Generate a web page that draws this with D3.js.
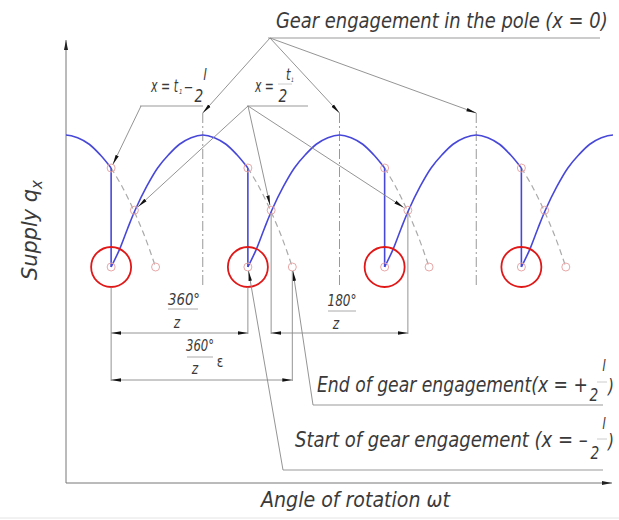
<!DOCTYPE html>
<html>
<head>
<meta charset="utf-8">
<script src="https://cdn.jsdelivr.net/npm/d3@7"></script>
<style>
  body { margin: 0; background: #fff; }
  svg text { font-family: "DejaVu Sans Condensed", "DejaVu Sans", sans-serif; font-stretch: condensed; font-style: italic; fill: #3a3a3a; }
</style>
</head>
<body>
<div id="chart"></div>
<script>
const WIDTH = 619;
const HEIGHT = 520;

// tooth engagements, in units of 360°/z
const ENGAGEMENTS = [0, 1, 2, 3];
const PREV_TOOTH = -1;
// one supply pulse of a tooth pair (offset from engagement, relative supply)
const ARC_OFFSET = [0, 0.06, 0.12, 0.175, 0.26, 0.34, 0.42, 0.5, 0.585, 0.67, 0.755, 0.84, 0.92, 1.0];
const ARC_Q = [0, 0.13, 0.29, 0.43, 0.61, 0.75, 0.85, 0.93, 0.98, 1, 0.98, 0.93, 0.85, 0.75];
// continuation of the pulse after the next tooth takes over (dashed)
const TAIL_OFFSET = [1.0, 1.08, 1.165, 1.25, 1.325];
const TAIL_Q = [0.75, 0.61, 0.43, 0.22, 0];
// marked points on each pulse
const POLE_OFFSET = 0.67;      // x = 0
const MID_OFFSET = 0.17;       // x = t1/2
const END_OFFSET = 0.325;      // x = +l/2
const DROP_Q = 0.75;           // x = t1 - l/2
const MID_Q = 0.43;

const svg = d3.select("#chart").append("svg")
  .attr("width", WIDTH)
  .attr("height", HEIGHT);

const x = d3.scaleLinear().domain([-0.33, 3.67]).range([66, 613]);
const y = d3.scaleLinear().domain([0, 1]).range([267, 135]);

const defs = svg.append("defs");
defs.append("marker")
  .attr("id", "arrow")
  .attr("viewBox", "0 -3 10 6")
  .attr("refX", 10).attr("refY", 0)
  .attr("markerWidth", 10).attr("markerHeight", 6)
  .attr("markerUnits", "userSpaceOnUse")
  .attr("orient", "auto-start-reverse")
  .append("path")
  .attr("d", "M0,-1.7L10,0L0,1.7Z")
  .attr("fill", "#111");
defs.append("marker")
  .attr("id", "axisArrow")
  .attr("viewBox", "0 -3 10 6")
  .attr("refX", 10).attr("refY", 0)
  .attr("markerWidth", 10).attr("markerHeight", 6)
  .attr("markerUnits", "userSpaceOnUse")
  .attr("orient", "auto")
  .append("path")
  .attr("d", "M0,-2L10,0L0,2Z")
  .attr("fill", "#222");
defs.append("clipPath").attr("id", "plot")
  .append("rect")
  .attr("x", x(-0.33)).attr("y", 0)
  .attr("width", x(3.67) - x(-0.33)).attr("height", HEIGHT);

// axes
svg.append("line")
  .attr("x1", 66).attr("y1", 483).attr("x2", 66).attr("y2", 40)
  .attr("stroke", "#777").attr("stroke-width", 1)
  .attr("marker-end", "url(#axisArrow)");
svg.append("line")
  .attr("x1", 66).attr("y1", 483).attr("x2", 612).attr("y2", 483)
  .attr("stroke", "#777").attr("stroke-width", 1)
  .attr("marker-end", "url(#axisArrow)");
svg.append("line")
  .attr("x1", 0).attr("y1", 518).attr("x2", WIDTH).attr("y2", 518)
  .attr("stroke", "#e4e4e4");

// pole lines (dash-dot)
ENGAGEMENTS.slice(0, 3).forEach(n => {
  svg.append("line")
    .attr("x1", x(n + POLE_OFFSET)).attr("x2", x(n + POLE_OFFSET))
    .attr("y1", 113).attr("y2", 285)
    .attr("stroke", "#999").attr("stroke-width", 1)
    .attr("stroke-dasharray", "10,3,2,3");
});

const line = d3.line().x(d => x(d[0])).y(d => y(d[1])).curve(d3.curveCatmullRom.alpha(0.5));

// dashed continuation
[PREV_TOOTH, ...ENGAGEMENTS.slice(0, 3)].forEach(n => {
  svg.append("path")
    .attr("d", line(TAIL_OFFSET.map((o, i) => [n + o, TAIL_Q[i]])))
    .attr("fill", "none")
    .attr("stroke", "#aaa").attr("stroke-width", 1.2)
    .attr("stroke-dasharray", "6,4");
});

// supply pulses
const curveG = svg.append("g").attr("clip-path", "url(#plot)");
[PREV_TOOTH, ...ENGAGEMENTS].forEach(n => {
  curveG.append("path")
    .attr("d", line(ARC_OFFSET.map((o, i) => [n + o, ARC_Q[i]])))
    .attr("fill", "none")
    .attr("stroke", "#4848d8").attr("stroke-width", 1.6);
});
ENGAGEMENTS.forEach(n => {
  svg.append("line")
    .attr("x1", x(n)).attr("x2", x(n))
    .attr("y1", y(DROP_Q)).attr("y2", y(0))
    .attr("stroke", "#4848d8").attr("stroke-width", 1.6);
});

// marked points
ENGAGEMENTS.forEach(n => {
  [[n, DROP_Q], [n + MID_OFFSET, MID_Q], [n + END_OFFSET, 0], [n, 0]].forEach(p => {
    svg.append("circle")
      .attr("cx", x(p[0])).attr("cy", y(p[1])).attr("r", 4)
      .attr("fill", "none").attr("stroke", "#e8a8a8").attr("stroke-width", 1);
  });
  svg.append("circle")
    .attr("cx", x(n)).attr("cy", y(0)).attr("r", 20)
    .attr("fill", "none").attr("stroke", "#e01818").attr("stroke-width", 1.8);
});

// leaders
function leader(x0, y0, tx, ty, back) {
  const dx = tx - x0, dy = ty - y0, len = Math.hypot(dx, dy);
  const k = (len - (back || 0)) / len;
  svg.append("line")
    .attr("x1", x0).attr("y1", y0)
    .attr("x2", x0 + dx * k).attr("y2", y0 + dy * k)
    .attr("stroke", "#888").attr("stroke-width", 0.9)
    .attr("marker-end", "url(#arrow)");
}
function hline(x1, x2, yy, color) {
  svg.append("line")
    .attr("x1", x1).attr("x2", x2).attr("y1", yy).attr("y2", yy)
    .attr("stroke", color || "#999").attr("stroke-width", 1);
}

hline(268, 600, 38);
ENGAGEMENTS.slice(0, 3).forEach(n => leader(270, 38, x(n + POLE_OFFSET), 113, 0));

hline(140, 203, 106);
leader(141, 106, x(0), y(DROP_Q), 4);

hline(247, 308, 106);
ENGAGEMENTS.slice(0, 3).forEach(n => leader(248, 106, x(n + MID_OFFSET), y(MID_Q), 5));

hline(313, 603, 405);
leader(313, 405, x(1 + END_OFFSET), y(0), 4);

hline(283, 603, 470);
leader(283, 470, x(1), y(0), 4);

// dimensions
function ext(xx, y1, y2) {
  svg.append("line")
    .attr("x1", xx).attr("x2", xx).attr("y1", y1).attr("y2", y2)
    .attr("stroke", "#888").attr("stroke-width", 0.9);
}
function dim(x1, x2, yy) {
  svg.append("line")
    .attr("x1", x1).attr("x2", x2).attr("y1", yy).attr("y2", yy)
    .attr("stroke", "#888").attr("stroke-width", 0.9)
    .attr("marker-start", "url(#arrow)")
    .attr("marker-end", "url(#arrow)");
}
ext(x(0), y(0) + 20, 381);
ext(x(1), y(0) + 20, 334);
ext(x(1 + MID_OFFSET), y(MID_Q) + 4, 334);
ext(x(2 + MID_OFFSET), y(MID_Q) + 4, 334);
ext(x(1 + END_OFFSET), y(0) + 4, 381);
dim(x(0), x(1), 333);
dim(x(1 + MID_OFFSET), x(2 + MID_OFFSET), 333);
dim(x(0), x(1 + END_OFFSET), 380);

// text placed at (x0, y0) and squeezed horizontally to a given width
function txt(x0, y0, s, size, width, anchor) {
  const t = svg.append("text")
    .attr("text-anchor", anchor || "start")
    .style("font-size", size + "px")
    .text(s);
  const sx = width ? width / t.node().getComputedTextLength() : 0.85;
  t.attr("transform", `translate(${x0},${y0}) scale(${sx},1)`);
  return t;
}

txt(184, 305, "360°", 16, 32, "middle");
hline(168, 198, 309, "#aaa");
txt(177, 328, "z", 16, null, "middle");
txt(342, 306, "180°", 16, 29, "middle");
hline(328, 356, 311, "#aaa");
txt(336, 329, "z", 16, null, "middle");
txt(200, 351, "360°", 16, 28, "middle");
hline(187, 213, 357, "#aaa");
txt(195, 374, "z", 16, null, "middle");
txt(220, 367, "ε", 16, null, "middle").style("font-style", "normal");

// labels
txt(276, 28, "Gear engagement in the pole (x = 0)", 21, 332);

txt(151, 92, "x = t", 17, 27);
txt(179, 94, "1", 7, null);
txt(184, 92, "–", 16, 9);
txt(199, 102, "2", 18, null, "middle");
txt(205, 80, "l", 16, null, "middle");

txt(255, 92, "x =", 17, 19);
txt(283, 102, "2", 18, null, "middle");
hline(278, 292, 84, "#ccc");
txt(286, 80, "t", 15, null);
txt(291, 82, "1", 6, null);

txt(317, 392, "End of gear engagement(x = +", 21, 271);
txt(594, 401, "2", 18, null, "middle");
txt(604, 371, "l", 16, null, "middle");
hline(597, 607, 382, "#ccc");
txt(608, 393, ")", 20, null);

txt(295, 447, "Start of gear engagement (x = –", 21, 293);
txt(595, 459, "2", 18, null, "middle");
txt(604, 429, "l", 16, null, "middle");
hline(597, 607, 439, "#ccc");
txt(608, 448, ")", 20, null);

txt(261, 507, "Angle of rotation ωt", 21, 189);

const ylab = svg.append("text")
  .attr("transform", "translate(37,280) rotate(-90)")
  .style("font-size", "21px");
ylab.append("tspan").text("Supply q");
ylab.append("tspan").attr("dy", 5).style("font-size", "15px").text("x");
const yl = ylab.node().getComputedTextLength();
ylab.attr("transform", `translate(37,280) rotate(-90) scale(${100 / yl},1)`);
</script>
</body>
</html>
